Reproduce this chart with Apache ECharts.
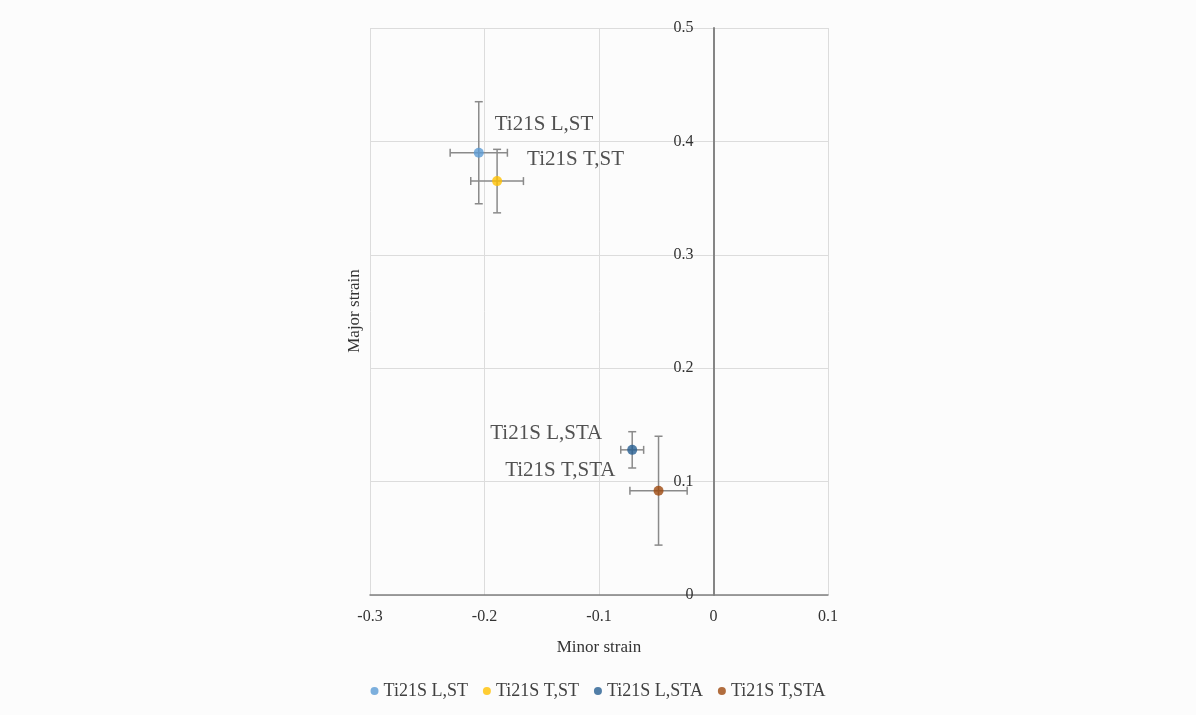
<!DOCTYPE html>
<html>
<head>
<meta charset="utf-8">
<script src="https://cdn.jsdelivr.net/npm/echarts@6/dist/echarts.min.js"></script>
<style>html,body{margin:0;padding:0;background:#fcfcfc;}#c{width:1196px;height:715px;}</style>
</head>
<body>
<div id="c"></div>
<script>
var names = ['Ti21S L,ST', 'Ti21S T,ST', 'Ti21S L,STA', 'Ti21S T,STA'];
var minorStrain = [-0.205, -0.189, -0.071, -0.048];
var majorStrain = [0.390, 0.365, 0.128, 0.092];
var minorErr = [0.025, 0.023, 0.010, 0.025];
var majorErr = [0.045, 0.028, 0.016, 0.048];
var xTicks = [-0.3, -0.2, -0.1, 0, 0.1];
var yTicks = [0, 0.1, 0.2, 0.3, 0.4, 0.5];

var colors = ['#5B9BD5', '#FFC000', '#255E91', '#9E480E'];
var labelOffsets = [[16, -28, 'left'], [30, -22, 'left'], [-30, -16, 'right'], [-43, -20, 'right']];
var serif = '"Liberation Serif", "DejaVu Serif", serif';

var gridLeft = 370, gridRight = 368, W = 1196;
var gridW = W - gridLeft - gridRight;
var xMin = xTicks[0], xMax = xTicks[xTicks.length - 1];
var yAxisOffset = -(0 - xMin) / (xMax - xMin) * gridW;

var chart = echarts.init(document.getElementById('c'));

var errData = names.map(function (n, i) {
  return [minorStrain[i], majorStrain[i], minorErr[i], majorErr[i]];
});

var series = [{
  type: 'custom',
  name: 'err',
  z: 2,
  silent: true,
  encode: { x: 0, y: 1 },
  data: errData,
  renderItem: function (params, api) {
    var x = api.value(0), y = api.value(1), ex = api.value(2), ey = api.value(3);
    var top = api.coord([x, y + ey]), bot = api.coord([x, y - ey]);
    var lft = api.coord([x - ex, y]), rgt = api.coord([x + ex, y]);
    var cap = 4;
    var st = { stroke: '#8a8a8a', lineWidth: 1.5 };
    var lines = [
      [top, bot],
      [[top[0] - cap, top[1]], [top[0] + cap, top[1]]],
      [[bot[0] - cap, bot[1]], [bot[0] + cap, bot[1]]],
      [lft, rgt],
      [[lft[0], lft[1] - cap], [lft[0], lft[1] + cap]],
      [[rgt[0], rgt[1] - cap], [rgt[0], rgt[1] + cap]]
    ];
    return {
      type: 'group',
      children: lines.map(function (l) {
        return { type: 'line', shape: { x1: l[0][0], y1: l[0][1], x2: l[1][0], y2: l[1][1] }, style: st };
      })
    };
  }
}];

names.forEach(function (n, i) {
  series.push({
    type: 'scatter',
    name: n,
    z: 5,
    symbol: 'circle',
    symbolSize: 10,
    itemStyle: { color: colors[i] },
    data: [[minorStrain[i], majorStrain[i]]],
    label: {
      show: true,
      formatter: n,
      position: 'inside',
      align: labelOffsets[i][2],
      verticalAlign: 'middle',
      offset: [labelOffsets[i][0], labelOffsets[i][1]],
      fontFamily: serif,
      fontSize: 21,
      color: '#262626'
    }
  });
});

chart.setOption({
  backgroundColor: '#fcfcfc',
  animation: false,
  grid: { left: gridLeft, right: gridRight, top: 28, bottom: 120 },
  xAxis: {
    type: 'value',
    min: xMin, max: xMax, interval: 0.1,
    name: 'Minor strain',
    nameLocation: 'middle',
    nameGap: 44,
    nameTextStyle: { fontFamily: serif, fontSize: 17, color: '#333' },
    axisLine: { onZero: false, lineStyle: { color: '#7f7f7f', width: 1.5 } },
    axisTick: { show: false },
    axisLabel: {
      fontFamily: serif, fontSize: 16, color: '#333', margin: 14,
      formatter: function (v) { return String(Math.round(v * 10) / 10); }
    },
    splitLine: { show: true, lineStyle: { color: '#dcdcdc', width: 1 } }
  },
  yAxis: {
    type: 'value',
    min: yTicks[0], max: yTicks[yTicks.length - 1], interval: 0.1,
    position: 'left',
    offset: yAxisOffset,
    axisLine: { show: true, onZero: false, lineStyle: { color: '#858585', width: 2 } },
    axisTick: { show: false },
    axisLabel: {
      fontFamily: serif, fontSize: 16, color: '#333', margin: 20,
      formatter: function (v) { return String(Math.round(v * 10) / 10); }
    },
    splitLine: { show: true, lineStyle: { color: '#dcdcdc', width: 1 } }
  },
  legend: {
    data: names,
    left: 'center',
    top: 677,
    icon: 'circle',
    itemWidth: 8,
    itemHeight: 8,
    itemGap: 15,
    textStyle: { fontFamily: serif, fontSize: 18, color: '#404040' }
  },
  graphic: [{
    type: 'text',
    x: 355,
    y: 311,
    rotation: Math.PI / 2,
    style: { text: 'Major strain', font: '17px ' + serif, fill: '#333', align: 'center', verticalAlign: 'middle' }
  }],
  series: series
});
</script>
</body>
</html>
